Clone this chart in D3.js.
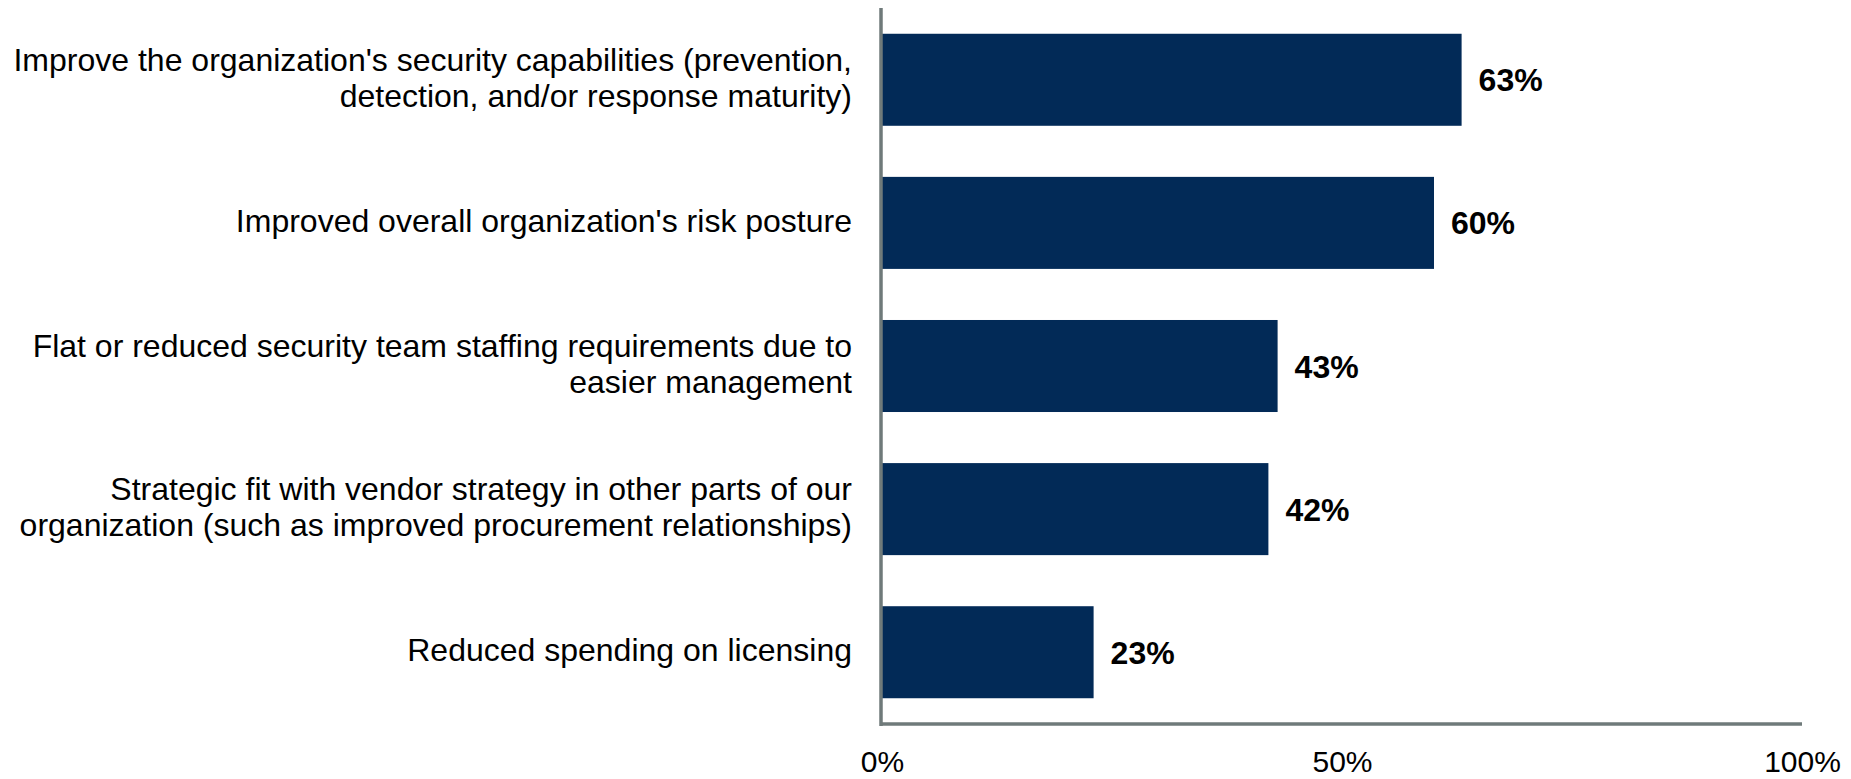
<!DOCTYPE html>
<html>
<head>
<meta charset="utf-8">
<script src="https://cdn.jsdelivr.net/npm/d3@7"></script>
<style>
  body { margin: 0; background: #fff; }
  svg text { font-family: "Liberation Sans", Arial, sans-serif; fill: #000; }
</style>
</head>
<body>
<div id="grafico"></div>
<script>
// dados
var categorias = [
  ["Improve the organization's security capabilities (prevention,", "detection, and/or response maturity)"],
  ["Improved overall organization's risk posture"],
  ["Flat or reduced security team staffing requirements due to", "easier management"],
  ["Strategic fit with vendor strategy in other parts of our", "organization (such as improved procurement relationships)"],
  ["Reduced spending on licensing"]
];
var valores = [0.63, 0.60, 0.43, 0.42, 0.23];
var ticks_x = [0, 0.5, 1];

var width = 1851, height = 779;
var cor_barra = '#022a57';
var cor_eixo = '#6f7a7a';

var svg = d3.select("#grafico")
            .append("svg")
            .attr("width", width)
            .attr("height", height);

var x = d3.scaleLinear()
          .domain([0, 1])
          .range([882, 1802]);

var y = d3.scaleBand()
          .domain(d3.range(categorias.length))
          .range([8, 724])
          .paddingInner(0.357)
          .paddingOuter(0.18);

// barras
svg.append("g")
   .selectAll("rect")
   .data(valores)
   .enter()
   .append("rect")
   .attr("x", x(0))
   .attr("y", function(d, i){ return y(i); })
   .attr("width", function(d){ return x(d) - x(0); })
   .attr("height", y.bandwidth())
   .style("fill", cor_barra);

// rotulos dos valores
svg.append("g")
   .selectAll("text")
   .data(valores)
   .enter()
   .append("text")
   .attr("x", function(d){ return x(d) + 17; })
   .attr("y", function(d, i){ return y(i) + y.bandwidth() / 2 + 11.5; })
   .style("font-size", "32px")
   .style("font-weight", "bold")
   .text(function(d){ return d3.format(".0%")(d); });

// eixo x
var xAxis = d3.axisBottom(x)
              .tickValues(ticks_x)
              .tickFormat(d3.format(".0%"))
              .tickSize(0)
              .tickSizeOuter(0)
              .tickPadding(27);

var gx = svg.append("g")
            .attr("transform", "translate(0,724)")
            .call(xAxis);
gx.select(".domain")
  .attr("d", "M" + (x(0) - 2) + ",0H" + x(1))
  .style("stroke", cor_eixo)
  .style("stroke-width", 3.5);
gx.selectAll("text")
  .style("font-size", "30px")
  .style("font-family", "'Liberation Sans', Arial, sans-serif")
  .attr("fill", "#000");

// eixo y
var yAxis = d3.axisLeft(y)
              .tickSize(0)
              .tickSizeOuter(0)
              .tickFormat("");

var gy = svg.append("g")
            .attr("transform", "translate(881,0)")
            .call(yAxis);
gy.select(".domain")
  .attr("d", "M0,8V726")
  .style("stroke", cor_eixo)
  .style("stroke-width", 3.5);

// rotulos das categorias
var fonte = 32, linha = 36.5;
svg.append("g")
   .selectAll("text")
   .data(categorias)
   .enter()
   .append("text")
   .attr("text-anchor", "end")
   .style("font-size", fonte + "px")
   .each(function(linhas, i){
       var centro = y(i) + y.bandwidth() / 2;
       var topo = centro - (linhas.length - 1) * linha / 2 + 9;
       var t = d3.select(this);
       linhas.forEach(function(l, j){
           t.append("tspan")
            .attr("x", 852)
            .attr("y", topo + j * linha)
            .text(l);
       });
   });
</script>
</body>
</html>
